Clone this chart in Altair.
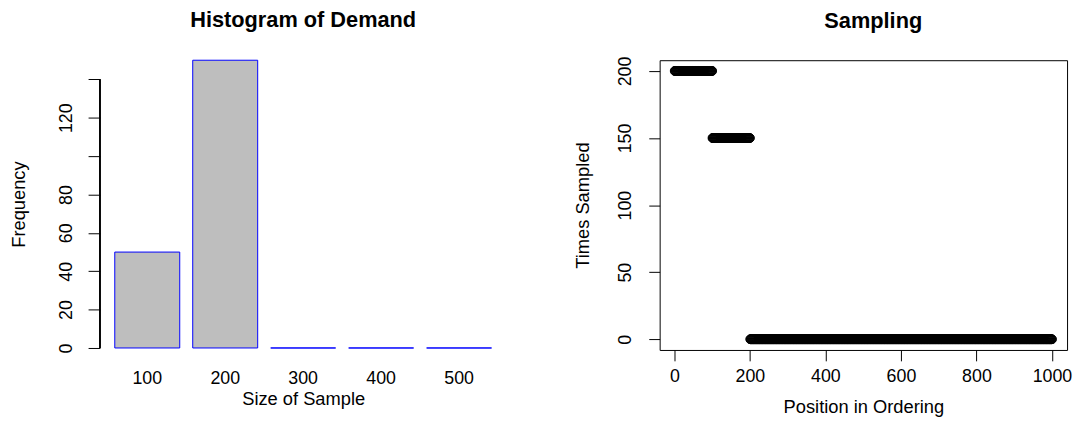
import altair as alt
import pandas as pd

FONT = "Liberation Sans"

# ---- left panel: histogram of demand ----
sizes = ["100", "200", "300", "400", "500"]
freqs = [50, 150, 0, 0, 0]
left_y_ticks = [0, 20, 40, 60, 80, 100, 120, 140]
left_y_hidden = [100, 140]

# ---- right panel: sampling (runs of equal values) ----
run_starts = [1, 101, 201]
run_ends = [100, 200, 1000]
run_values = [200, 150, 0]
right_x_ticks = [0, 200, 400, 600, 800, 1000]
right_y_ticks = [0, 50, 100, 150, 200]

positions, times = [], []
for s, e, v in zip(run_starts, run_ends, run_values):
    for p in range(s, e + 1):
        positions.append(p)
        times.append(v)

hist_df = pd.DataFrame({"size": sizes, "freq": freqs})
samp_df = pd.DataFrame({"pos": positions, "times": times})

hidden_expr = " || ".join(f"datum.value == {v}" for v in left_y_hidden)

bars = alt.Chart(hist_df).mark_bar(
    fill="#bebebe", stroke="#0000ff", strokeWidth=1
).encode(
    x=alt.X("size:N", sort=None, title="Size of Sample",
            scale=alt.Scale(paddingInner=0.1667, paddingOuter=0.19),
            axis=alt.Axis(labelAngle=0, domain=False, ticks=False, tickSize=0,
                          labelPadding=22, titlePadding=2.5)),
    y=alt.Y("freq:Q", title="Frequency",
            scale=alt.Scale(domain=[0, 150], nice=False, zero=True),
            axis=alt.Axis(values=left_y_ticks, domain=False, tickSize=12,
                          labelAngle=270, labelAlign="center", labelBaseline="bottom",
                          labelPadding=13, titlePadding=29,
                          labelExpr=f"({hidden_expr}) ? '' : datum.label")),
)

y_line = alt.Chart(hist_df).mark_rule(color="black", strokeWidth=1).encode(
    x=alt.value(0),
    y=alt.datum(left_y_ticks[0]),
    y2=alt.datum(left_y_ticks[-1]),
)

left = alt.layer(bars, y_line).properties(
    width=411, height=291,
    title=alt.TitleParams("Histogram of Demand", fontSize=22, font=FONT,
                          fontWeight="bold", color="black", anchor="middle", offset=27.6),
)

x_lo, x_hi = min(positions), max(positions)
x_pad = 0.04 * (x_hi - x_lo)
y_lo, y_hi = min(times), max(times)
y_pad = 0.04 * (y_hi - y_lo)

right = alt.Chart(samp_df).mark_point(
    shape="circle", filled=False, size=80, color="black", strokeWidth=1, opacity=1
).encode(
    x=alt.X("pos:Q", title="Position in Ordering",
            scale=alt.Scale(domain=[x_lo - x_pad, x_hi + x_pad], nice=False, zero=False),
            axis=alt.Axis(values=right_x_ticks, format="d", domain=False, tickSize=11,
                          labelPadding=7, titlePadding=12)),
    y=alt.Y("times:Q", title="Times Sampled",
            scale=alt.Scale(domain=[y_lo - y_pad, y_hi + y_pad], nice=False, zero=False),
            axis=alt.Axis(values=right_y_ticks, domain=False, tickSize=11,
                          labelAngle=270, labelAlign="center", labelBaseline="bottom",
                          labelPadding=14, titlePadding=25)),
).properties(
    width=412, height=293,
    view=alt.ViewBackground(stroke="black", strokeWidth=1),
    title=alt.TitleParams("Sampling", fontSize=22, font=FONT, fontWeight="bold",
                          color="black", anchor="middle", offset=23.4, dx=10),
)

chart = alt.hconcat(left, right, spacing=66).properties(
    padding={"left": 1, "top": -1.5, "right": 0, "bottom": 0},
).configure(
    font=FONT,
).configure_view(
    stroke="transparent",
).configure_axis(
    labelFont=FONT, titleFont=FONT, labelFontSize=18, titleFontSize=18.5,
    titleFontWeight="normal", labelColor="black", titleColor="black",
    tickColor="black", tickWidth=1, grid=False, labelOverlap=False,
    labelFlush=False,
)

chart.save("out.html", embed_options={"renderer": "svg", "actions": False})
